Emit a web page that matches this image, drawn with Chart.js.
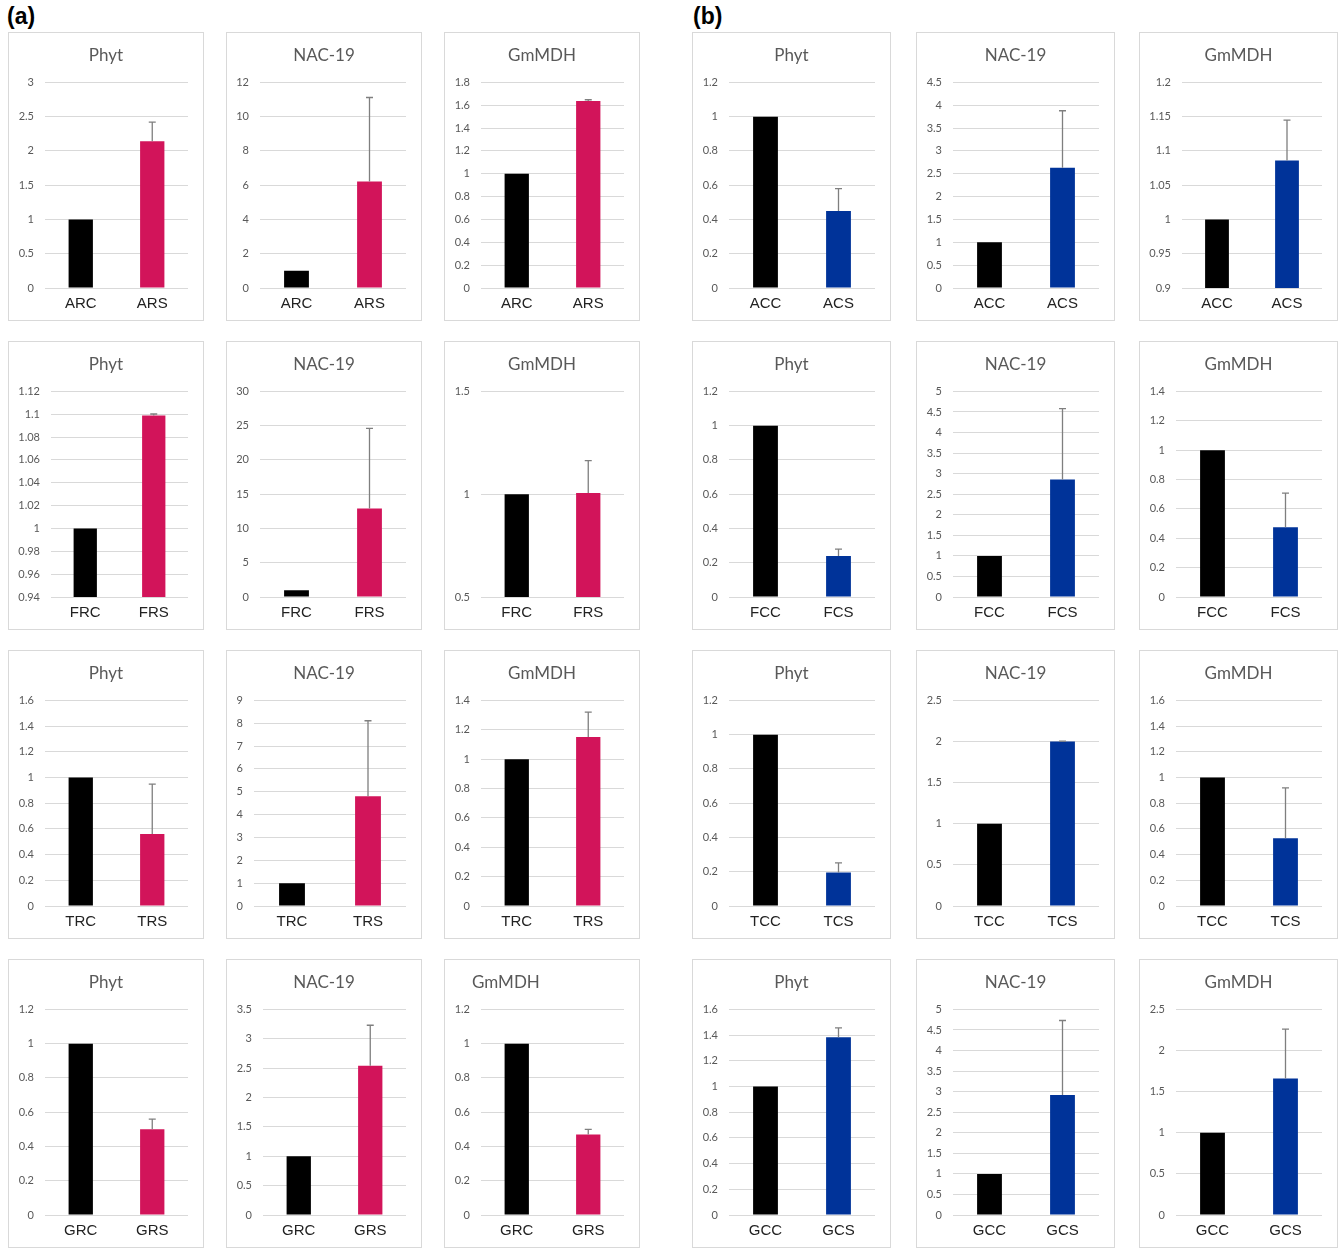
<!DOCTYPE html>
<html>
<head>
<meta charset="utf-8">
<script src="https://cdn.jsdelivr.net/npm/chart.js@4.4.1/dist/chart.umd.min.js"></script>
<style>
  body { margin: 0; background: #fff; width: 1340px; height: 1249px; position: relative; overflow: hidden;
         font-family: "Liberation Sans", Arial, sans-serif; }
  .tag { position: absolute; font-weight: bold; font-size: 23px; color: #000; line-height: 1; }
  .panel { position: absolute; border: 1px solid #d9d9d9; box-sizing: border-box; background: #fff; }
  .panel canvas { position: absolute; left: 0; top: 0; }
</style>
</head>
<body>
<div class="tag" style="left:7px;top:5px">(a)</div>
<div class="tag" style="left:693px;top:5px">(b)</div>
<script>
// ---- Relative expression data (control = 1) ----
const genes = ['Phyt', 'NAC-19', 'GmMDH'];

// Panel (a): roots
const categoriesA = [['ARC', 'ARS'], ['FRC', 'FRS'], ['TRC', 'TRS'], ['GRC', 'GRS']];
// Panel (b): leaves / shoots
const categoriesB = [['ACC', 'ACS'], ['FCC', 'FCS'], ['TCC', 'TCS'], ['GCC', 'GCS']];

// Means [control, stressed] per row
const phytA = [[1, 2.14], [1, 1.099], [1, 0.56], [1, 0.50]];
const nacA  = [[1, 6.22], [1, 12.9], [1, 4.8], [1, 2.54]];
const mdhA  = [[1, 1.637], [1, 1.006], [1, 1.15], [1, 0.47]];
const phytB = [[1, 0.45], [1, 0.24], [1, 0.196], [1, 1.384]];
const nacB  = [[1, 2.63], [1, 2.86], [1, 2.0], [1, 2.92]];
const mdhB  = [[1, 1.086], [1, 0.475], [1, 0.527], [1, 1.66]];

// Upper error (SD) on the stressed bar per row
const phytAErr = [0.28, 0.0012, 0.388, 0.06];
const nacAErr  = [4.9, 11.7, 3.31, 0.69];
const mdhAErr  = [0.011, 0.157, 0.17, 0.03];
const phytBErr = [0.13, 0.04, 0.056, 0.072];
const nacBErr  = [1.25, 1.72, 0.006, 1.81];
const mdhBErr  = [0.059, 0.232, 0.392, 0.60];

// Y axis ticks per row: [min, max, step]
const phytATicks = [[0, 3, 0.5], [0.94, 1.12, 0.02], [0, 1.6, 0.2], [0, 1.2, 0.2]];
const nacATicks  = [[0, 12, 2], [0, 30, 5], [0, 9, 1], [0, 3.5, 0.5]];
const mdhATicks  = [[0, 1.8, 0.2], [0.5, 1.5, 0.5], [0, 1.4, 0.2], [0, 1.2, 0.2]];
const phytBTicks = [[0, 1.2, 0.2], [0, 1.2, 0.2], [0, 1.2, 0.2], [0, 1.6, 0.2]];
const nacBTicks  = [[0, 4.5, 0.5], [0, 5, 0.5], [0, 2.5, 0.5], [0, 5, 0.5]];
const mdhBTicks  = [[0.9, 1.2, 0.05], [0, 1.4, 0.2], [0, 1.6, 0.2], [0, 2.5, 0.5]];

// ---- Layout of the small multiples ----
const layoutA = { cols: [8, 226, 444], width: 196, color: '#D2145A' };
const layoutB = { cols: [692, 916, 1139], width: 199, color: '#003399' };
const rowTops = [32, 341, 650, 959];
const panelHeight = 289;

const TICK_FONT = { family: 'Lato, "Open Sans", sans-serif', size: 11 };
const PAD_LEFT = 8;
const PAD_RIGHT = 15;

// Error bar drawn above each bar that has an error value
const errorBars = {
  id: 'errorBars',
  afterDatasetsDraw(chart, args, opts) {
    const errs = opts.values || [];
    const meta = chart.getDatasetMeta(0);
    const y = chart.scales.y;
    const data = chart.data.datasets[0].data;
    const ctx = chart.ctx;
    ctx.save();
    ctx.strokeStyle = '#7f7f7f';
    ctx.lineWidth = 1.3;
    meta.data.forEach((bar, i) => {
      const e = errs[i];
      if (!e) return;
      const top = y.getPixelForValue(data[i] + e);
      ctx.beginPath();
      ctx.moveTo(bar.x, bar.y);
      ctx.lineTo(bar.x, top);
      ctx.moveTo(bar.x - 3.5, top);
      ctx.lineTo(bar.x + 3.5, top);
      ctx.stroke();
    });
    ctx.restore();
  }
};

// Horizontal shift of the chart title (keeps it centred on the frame)
const titleNudge = {
  id: 'titleNudge',
  afterLayout(chart, args, opts) {
    const dx = opts.dx || 0;
    if (dx && chart.titleBlock) {
      chart.titleBlock.left += dx;
      chart.titleBlock.right += dx;
    }
  }
};

function fmt(v) { return String(parseFloat(v.toFixed(3))); }

function buildPanel(left, top, w, h, title, cats, vals, errs, ticks, color, titleStart) {
  const div = document.createElement('div');
  div.className = 'panel';
  div.style.left = left + 'px';
  div.style.top = top + 'px';
  div.style.width = w + 'px';
  div.style.height = h + 'px';
  const canvas = document.createElement('canvas');
  canvas.width = w - 2;
  canvas.height = h - 2;
  canvas.style.width = (w - 2) + 'px';
  canvas.style.height = (h - 2) + 'px';
  div.appendChild(canvas);
  document.body.appendChild(div);

  new Chart(canvas, {
    type: 'bar',
    data: {
      labels: cats,
      datasets: [{
        data: vals,
        backgroundColor: ['#000000', color],
        borderWidth: 0,
        barPercentage: 0.34,
        categoryPercentage: 1
      }]
    },
    options: {
      responsive: false,
      animation: false,
      events: [],
      layout: { padding: { left: PAD_LEFT, right: PAD_RIGHT, top: 0, bottom: 0 } },
      plugins: {
        legend: { display: false },
        tooltip: { enabled: false },
        title: {
          display: true,
          text: title,
          color: '#595959',
          align: titleStart ? 'start' : 'center',
          font: { family: 'Lato, "Open Sans", sans-serif', size: 17, weight: 'normal', lineHeight: 1.2 },
          padding: { top: 12, bottom: 17 }
        },
        titleNudge: { dx: titleStart ? 19 : (PAD_RIGHT - PAD_LEFT) / 2 },
        errorBars: { values: errs }
      },
      scales: {
        x: {
          grid: { display: false, drawTicks: false },
          border: { display: false },
          ticks: {
            color: '#222222',
            padding: 7,
            font: { family: '"Liberation Sans", Arial, sans-serif', size: 15, lineHeight: 1.2 }
          }
        },
        y: {
          min: ticks[0],
          max: ticks[1],
          grid: { color: '#d9d9d9', lineWidth: 1, drawTicks: false },
          border: { display: false },
          ticks: {
            stepSize: ticks[2],
            color: '#595959',
            padding: 11,
            font: TICK_FONT,
            callback: v => fmt(v)
          },
          afterFit(scale) {
            const ctx = scale.ctx;
            ctx.save();
            ctx.font = TICK_FONT.size + 'px ' + TICK_FONT.family;
            const widest = Math.max(...scale.ticks.map(t => ctx.measureText(String(t.label)).width));
            ctx.restore();
            scale.width = Math.ceil(widest) + 12;
          }
        }
      }
    },
    plugins: [errorBars, titleNudge]
  });
}

const groups = [
  { layout: layoutA, cats: categoriesA, vals: [phytA, nacA, mdhA], errs: [phytAErr, nacAErr, mdhAErr], ticks: [phytATicks, nacATicks, mdhATicks] },
  { layout: layoutB, cats: categoriesB, vals: [phytB, nacB, mdhB], errs: [phytBErr, nacBErr, mdhBErr], ticks: [phytBTicks, nacBTicks, mdhBTicks] }
];

groups.forEach((g, gi) => {
  rowTops.forEach((top, r) => {
    genes.forEach((gene, c) => {
      const titleStart = gi === 0 && r === 3 && c === 2;
      buildPanel(g.layout.cols[c], top, g.layout.width, panelHeight, gene,
        g.cats[r], g.vals[c][r], [0, g.errs[c][r]], g.ticks[c][r], g.layout.color, titleStart);
    });
  });
});
</script>
</body>
</html>
